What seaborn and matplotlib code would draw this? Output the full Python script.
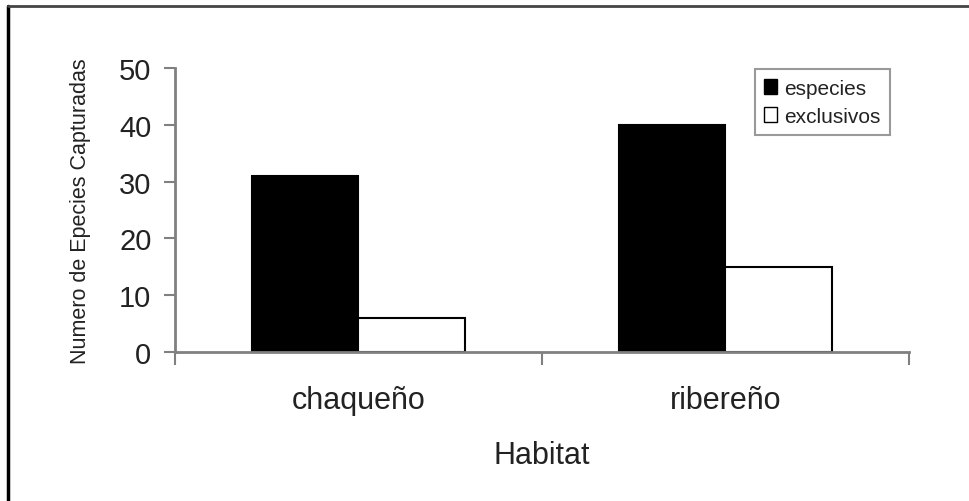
import numpy as np
import pandas as pd
import matplotlib
matplotlib.use('Agg')
import matplotlib.pyplot as plt
import seaborn as sns
from matplotlib.lines import Line2D
from matplotlib.patches import Patch

habitats = ['chaqueño', 'ribereño']
series = ['especies', 'exclusivos']
especies = [31, 40]
exclusivos = [6, 15]
colors = ['black', 'white']

df = pd.DataFrame({
    'Habitat': habitats * 2,
    'grupo': [series[0]] * 2 + [series[1]] * 2,
    'valor': especies + exclusivos,
})

sns.set_style('white')
plt.rcParams['font.family'] = ['Liberation Sans', 'DejaVu Sans']

fig = plt.figure(figsize=(9.7, 5.02), dpi=100)
ax = fig.add_axes([175 / 970, 1 - 353 / 502, 734 / 970, 284 / 502])

sns.barplot(data=df, x='Habitat', y='valor', hue='grupo', order=habitats,
            hue_order=series, palette=colors, width=0.58, gap=0,
            edgecolor='black', linewidth=1.5, saturation=1, ax=ax)

ax.set_xlim(-0.5, 1.5)
ax.set_ylim(0, 50)
ax.set_yticks([0, 10, 20, 30, 40, 50])

for s in ['top', 'right']:
    ax.spines[s].set_visible(False)
for s in ['left', 'bottom']:
    ax.spines[s].set_color('#808080')
    ax.spines[s].set_linewidth(2)

ax.tick_params(axis='y', which='major', left=True, length=8, width=1.5,
               color='#808080', pad=9, labelsize=21, labelcolor='#222222')
ax.set_xticks([-0.5, 0.5, 1.5], minor=True)
ax.tick_params(axis='x', which='major', length=0, pad=24, labelsize=22,
               labelcolor='#222222')
ax.tick_params(axis='x', which='minor', bottom=True, length=9, width=1.5,
               color='#808080')

ax.set_xlabel('Habitat', fontsize=22, color='#222222')
ax.xaxis.set_label_coords(0.5, -0.31)
ax.set_ylabel('Numero de Epecies Capturadas', fontsize=15.5, color='#222222')
ax.yaxis.set_label_coords(-0.114, 0.5)

handles = [Patch(facecolor=c, edgecolor='black', linewidth=1) for c in colors]
leg = ax.legend(handles, series, loc='upper right', bbox_to_anchor=(0.974, 0.996),
                borderaxespad=0, fancybox=False, frameon=True, fontsize=15,
                handlelength=0.6, handleheight=0.7, handletextpad=0.35,
                labelspacing=0.45, borderpad=0.45, framealpha=1)
leg.get_frame().set_edgecolor('#999999')
leg.get_frame().set_linewidth(1.5)
for t in leg.get_texts():
    t.set_color('#222222')

fig.add_artist(Line2D([8 / 970, 8 / 970], [0, 1 - 7 / 502], transform=fig.transFigure,
                      color='black', linewidth=2.5))
fig.add_artist(Line2D([8 / 970, 1], [1 - 7 / 502, 1 - 7 / 502], transform=fig.transFigure,
                      color='#444444', linewidth=2))

fig.savefig('out.png', dpi=100)
